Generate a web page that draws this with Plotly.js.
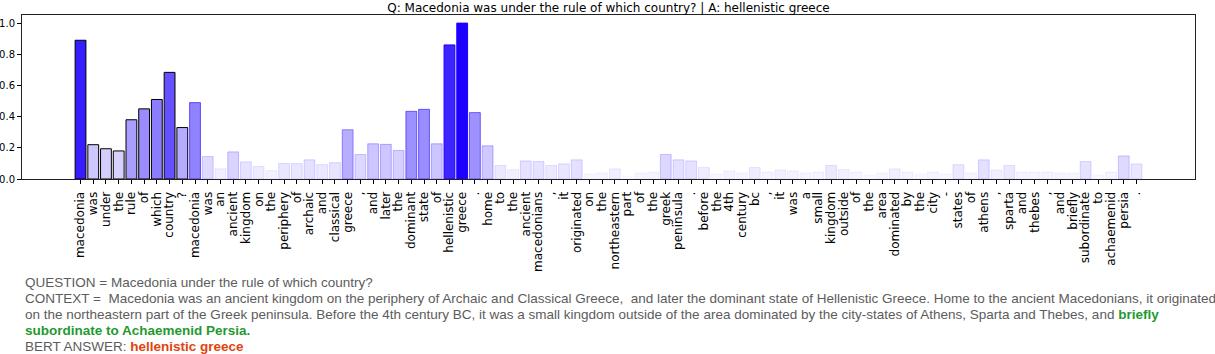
<!DOCTYPE html>
<html>
<head>
<meta charset="utf-8">
<script src="https://cdn.plot.ly/plotly-3.0.1.min.js"></script>
<style>html,body{margin:0;padding:0;background:#fff;}#chart{width:1215px;height:354px;}</style>
</head>
<body>
<div id="chart"></div>
<script>
// Tokens (question tokens first, then context tokens)
const tokens = ["macedonia","was","under","the","rule","of","which","country","?",
"macedonia","was","an","ancient","kingdom","on","the","periphery","of","archaic","and","classical","greece",",","and","later","the","dominant","state","of","hellenistic","greece",".",
"home","to","the","ancient","macedonians",",","it","originated","on","the","northeastern","part","of","the","greek","peninsula",".",
"before","the","4th","century","bc",",","it","was","a","small","kingdom","outside","of","the","area","dominated","by","the","city","-","states","of","athens",",","sparta","and","thebes",",","and","briefly","subordinate","to","achaemenid","persia","."];

// Attention-like scores
const scores = [0.89,0.22,0.194,0.18,0.38,0.45,0.51,0.684,0.33,
0.49,0.144,0.065,0.174,0.11,0.08,0.054,0.099,0.099,0.123,0.092,0.105,0.316,0.157,0.226,0.222,0.183,0.434,0.447,0.226,0.86,1.0,0.426,
0.213,0.086,0.06,0.116,0.112,0.086,0.097,0.123,0.032,0.039,0.065,0.019,0.039,0.045,0.157,0.123,0.116,
0.073,0.032,0.052,0.039,0.073,0.045,0.058,0.052,0.039,0.045,0.086,0.06,0.045,0.026,0.039,0.065,0.045,0.032,0.045,0.032,0.092,0.039,0.123,0.058,0.086,0.045,0.045,0.045,0.039,0.039,0.112,0.026,0.045,0.148,0.097];

const questionLength = 9;

const title = "Q: Macedonia was under the rule of which country? | A: hellenistic greece";
const questionText = "Macedonia under the rule of which country?";
const contextLines = [
  "CONTEXT =\u00a0\u00a0Macedonia was an ancient kingdom on the periphery of Archaic and Classical Greece,\u00a0\u00a0and later the dominant state of Hellenistic Greece. Home to the ancient Macedonians, it originated",
  "on the northeastern part of the Greek peninsula. Before the 4th century BC, it was a small kingdom outside of the area dominated by the city-states of Athens, Sparta and Thebes, and "
];
const answerSpanStart = "briefly";
const answerSpanRest = "subordinate to Achaemenid Persia.";
const bertAnswer = "hellenistic greece";

const xs = tokens.map((_, i) => i);
const fills = scores.map(v => `rgba(30,0,255,${v})`);
const edges = scores.map((v, i) => i < questionLength ? "rgba(0,0,0,1)" : `rgba(30,0,255,${Math.min(1, v*1.3)})`);

const trace = {
  type: "bar",
  x: xs,
  y: scores,
  width: 0.85,
  marker: {color: fills, line: {color: edges, width: 1}},
  hoverinfo: "skip"
};

const W = 1215, H = 354, L = 22, R = 20, T = 15, B = 175;
const plotH = H - T - B, plotW = W - L - R;
const py = p => (H - B - p) / plotH;   // pixel y -> paper y
const px = p => (p - L) / plotW;       // pixel x -> paper x

const gray = "#5c5c5c";
const textFont = {family: "Liberation Sans, Arial, sans-serif", size: 13.5, color: gray};
const lines = [
  "QUESTION = " + questionText,
  contextLines[0],
  contextLines[1] + `<b><span style="color:#1f9a30">${answerSpanStart}</span></b>`,
  `<b><span style="color:#1f9a30">${answerSpanRest}</span></b>`,
  `BERT ANSWER: <b><span style="color:#e0440e">${bertAnswer}</span></b>`
];
const lineY = [282.5, 298.5, 314.5, 330.5, 346.5];
const annotations = lines.map((t, i) => ({
  text: t, xref: "paper", yref: "paper", x: px(23), y: py(lineY[i]),
  xanchor: "left", yanchor: "middle", showarrow: false, font: textFont, align: "left"
}));

const layout = {
  width: W, height: H,
  margin: {l: L, r: R, t: T, b: B, pad: 0},
  paper_bgcolor: "#fff", plot_bgcolor: "#fff",
  showlegend: false,
  bargap: 0,
  title: {text: title, font: {family: "DejaVu Sans", size: 12, color: "#000"},
          x: px(608.5), xref: "paper", xanchor: "center", y: 1 - 7.5/H, yref: "container", yanchor: "middle"},
  xaxis: {
    range: [-4.6, tokens.length - 1 + 4.6],
    tickmode: "array", tickvals: xs, ticktext: tokens, tickangle: -90,
    ticks: "outside", ticklen: 4, tickwidth: 1, tickcolor: "#000",
    ticklabelstandoff: 3,
    tickfont: {family: "DejaVu Sans", size: 12, color: "#000"},
    showline: true, linecolor: "#222", linewidth: 1, mirror: true,
    showgrid: false, zeroline: false, fixedrange: true
  },
  yaxis: {
    range: [0, 1.052],
    tickvals: [0, 0.2, 0.4, 0.6, 0.8, 1.0], tickformat: ".1f",
    ticks: "outside", ticklen: 4, tickwidth: 1, tickcolor: "#000",
    tickfont: {family: "DejaVu Sans", size: 10, color: "#000"},
    showline: true, linecolor: "#222", linewidth: 1, mirror: true,
    showgrid: false, zeroline: false, fixedrange: true
  },
  annotations: annotations
};

Plotly.newPlot("chart", [trace], layout, {staticPlot: true, displayModeBar: false});
</script>
</body>
</html>
